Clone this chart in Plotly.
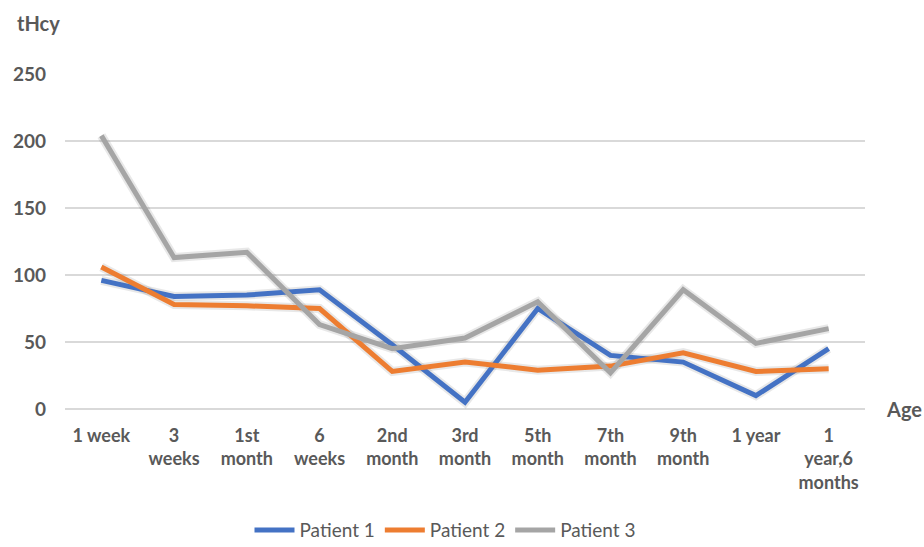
import plotly.graph_objects as go

# Age at measurement (category labels, line breaks as drawn under the axis)
ages = ["1 week", "3<br>weeks", "1st<br>month", "6<br>weeks", "2nd<br>month",
        "3rd<br>month", "5th<br>month", "7th<br>month", "9th<br>month",
        "1 year", "1<br>year,6<br>months"]

# Total homocysteine per patient
patient_1 = [96, 84, 85, 89, 48, 5, 75, 40, 35, 10, 45]
patient_2 = [106, 78, 77, 75, 28, 35, 29, 32, 42, 28, 30]
patient_3 = [204, 113, 117, 63, 45, 53, 80, 27, 89, 49, 60]

y_ticks = [0, 50, 100, 150, 200, 250]

series = [
    ("Patient 1", patient_1, "#4472C4"),
    ("Patient 2", patient_2, "#ED7D31"),
    ("Patient 3", patient_3, "#A5A5A5"),
]

font_family = "Lato, 'Open Sans', sans-serif"
text_color = "#595959"

fig = go.Figure()

# soft shadow under each line
for name, vals, color in series:
    fig.add_trace(go.Scatter(
        x=ages, y=vals, mode="lines", showlegend=False, hoverinfo="skip",
        line=dict(color="rgba(0,0,0,0.09)", width=9),
    ))

for name, vals, color in series:
    fig.add_trace(go.Scatter(
        x=ages, y=vals, mode="lines", name=name,
        line=dict(color=color, width=5),
    ))

fig.update_layout(
    width=924, height=547,
    margin=dict(l=65, r=59, t=74, b=138, autoexpand=False),
    paper_bgcolor="white", plot_bgcolor="white",
    font=dict(family=font_family, color=text_color),
    legend=dict(
        orientation="h", x=0.475, xanchor="center", y=-0.305, yanchor="top",
        font=dict(size=19, color=text_color), itemwidth=40,
    ),
    xaxis=dict(
        type="category", range=[-0.5, len(ages) - 0.5], automargin=False,
        showgrid=False, showline=False, zeroline=False,
        tickfont=dict(size=18, color=text_color, family=font_family, weight="bold"),
        ticklabelstandoff=14, ticks="",
    ),
    yaxis=dict(
        range=[0, 250], tickvals=y_ticks, automargin=False,
        showgrid=True, gridcolor="#D9D9D9",
        gridwidth=1.5, zeroline=True, zerolinecolor="#D9D9D9", zerolinewidth=1.5,
        showline=False, ticks="",
        tickfont=dict(size=19, color=text_color, family=font_family, weight="bold"),
        ticklabelstandoff=18,
    ),
    annotations=[
        dict(text="<b>tHcy</b>", xref="paper", yref="paper", x=-0.063, y=1.152,
             xanchor="left", yanchor="middle", showarrow=False,
             font=dict(size=20, color=text_color)),
        dict(text="<b>Age</b>", xref="paper", yref="paper", x=1.024, y=0.0,
             xanchor="left", yanchor="middle", showarrow=False,
             font=dict(size=20, color=text_color)),
    ],
)

fig.write_html("out.html")
